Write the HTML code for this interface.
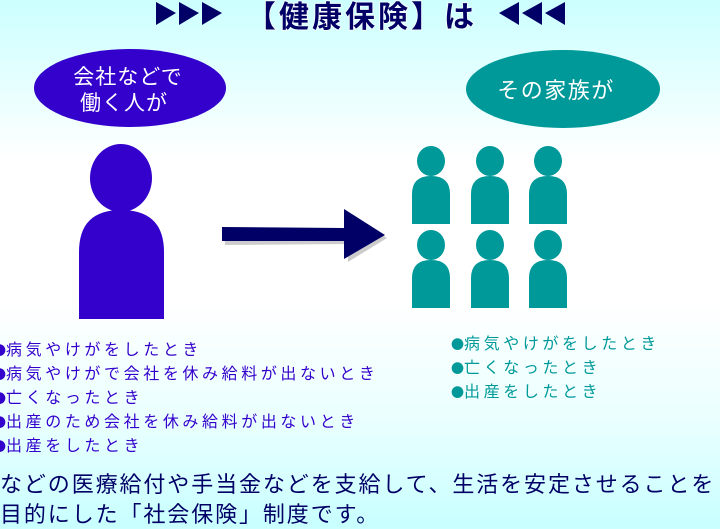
<!DOCTYPE html>
<html><head><meta charset="utf-8"><style>
body{margin:0;width:720px;height:527px;overflow:hidden;position:relative;font-family:"Liberation Sans","Noto Sans CJK JP",sans-serif;
background:linear-gradient(#ccffff 0px,#e8ffff 90px,#ffffff 160px,#ffffff 300px,#eaffff 420px,#c8ffff 527px);}
.t{position:absolute;white-space:nowrap}
.l{color:#3300cc;font-size:16px;letter-spacing:3.6px}
.r{color:#009999;font-size:16px;letter-spacing:3.6px}
.b{color:#000066;font-size:22px;letter-spacing:1.9px}
.d{font-family:"Noto Sans CJK JP",sans-serif;font-size:13px;letter-spacing:0}
</style></head><body>
<svg width="720" height="527" style="position:absolute;left:0;top:0">
<g fill="#000066">
<polygon points="156,2 176,13 156,25"/><polygon points="179,2 199,13 179,25"/><polygon points="202,2 222,13 202,25"/>
<polygon points="565,2 545,13 565,25"/><polygon points="542,2 522,13 542,25"/><polygon points="519,2 499,13 519,25"/>
</g>
<text x="246" y="27" font-size="30" font-weight="bold" fill="#000066" stroke="#ffffff" stroke-width="1.5" letter-spacing="3" style="font-family:'Noto Sans CJK JP',sans-serif;paint-order:stroke">【健康保険】は</text>
<ellipse cx="130" cy="88" rx="96" ry="39" fill="#3300cc"/>
<ellipse cx="563" cy="89" rx="97" ry="39" fill="#009999"/>
<text x="128" y="84" font-size="21" fill="#fff" text-anchor="middle" letter-spacing="1" style="font-family:'Noto Sans CJK JP',sans-serif">会社などで</text>
<text x="124" y="110" font-size="21" fill="#fff" text-anchor="middle" letter-spacing="1" style="font-family:'Noto Sans CJK JP',sans-serif">働く人が</text>
<text x="556" y="98" font-size="22" fill="#fff" text-anchor="middle" letter-spacing="1.5" style="font-family:'Noto Sans CJK JP',sans-serif">その家族が</text>
<g fill="#3300cc">
<ellipse cx="121" cy="178" rx="31" ry="34"/>
<path d="M79,319 L79,252 Q79,210 121,210 Q164,210 164,252 L164,319 Z"/>
</g>
<polygon points="224,230 346,231 346,212 387,238 348,262 348,244 225,245" fill="#999" opacity="0.5"/>
<polygon points="222,227 344,228 344,209 385,235 344,259 344,241 222,241" fill="#000066"/>
<g fill="#009999">
<g id="p"><ellipse cx="431" cy="161" rx="14" ry="15"/><path d="M412,224 L412,194 Q412,176 431,176 Q450,176 450,194 L450,224 Z"/></g>
<use href="#p" x="59"/><use href="#p" x="117"/>
<use href="#p" y="84"/><use href="#p" x="59" y="84"/><use href="#p" x="117" y="84"/>
</g>
</svg>
<div class="t l" style="left:-7px;top:336px"><span class="d">●</span>病気やけがをしたとき</div>
<div class="t l" style="left:-7px;top:360px"><span class="d">●</span>病気やけがで会社を休み給料が出ないとき</div>
<div class="t l" style="left:-7px;top:384px"><span class="d">●</span>亡くなったとき</div>
<div class="t l" style="left:-7px;top:408px"><span class="d">●</span>出産のため会社を休み給料が出ないとき</div>
<div class="t l" style="left:-7px;top:432px"><span class="d">●</span>出産をしたとき</div>
<div class="t r" style="left:451px;top:330px"><span class="d">●</span>病気やけがをしたとき</div>
<div class="t r" style="left:451px;top:354px"><span class="d">●</span>亡くなったとき</div>
<div class="t r" style="left:451px;top:378px"><span class="d">●</span>出産をしたとき</div>
<div class="t b" style="left:0;top:467px">などの医療給付や手当金などを支給して、生活を安定させることを</div>
<div class="t b" style="left:0;top:497px">目的にした「社会保険」制度です。</div>
</body></html>
